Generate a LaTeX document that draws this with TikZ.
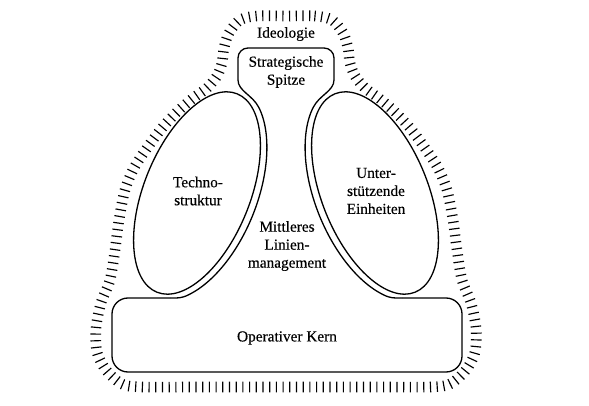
\documentclass[tikz,border=0pt]{standalone}
\usepackage{fontspec}
\setmainfont[FakeBold=0.35]{Liberation Serif}
\usetikzlibrary{decorations.pathreplacing}
\begin{document}
\begin{tikzpicture}[x=1pt,y=-1pt,
  outl/.style={line width=1.3pt, line join=round},
  lbl/.style={align=center, inner sep=0pt, font=\fontsize{15.3}{18}\selectfont},
  hatch/.style={line width=1.15pt, decorate, decoration={ticks, segment length=6.7pt, amplitude=5.3pt}}]
\fill[white] (0,0) rectangle (589,406);
\useasboundingbox (0,0) rectangle (589,406);
% ideology hatching
\draw[hatch] plot[smooth cycle] coordinates {(286,16) (315,16) (332,20) (343,33) (348,48) (350,63) (355,76) (365,88) (380,99) (395,112) (410,128) (425,148) (438,168) (447,190) (453,220) (457,250) (462,280) (471,303) (476,328) (475,352) (466,370) (450,384) (430,387) (380,387) (286,387) (192,387) (142,387) (122,384) (106,370) (97,352) (96,328) (101,303) (110,280) (115,250) (119,220) (125,190) (134,168) (147,148) (162,128) (177,112) (192,99) (207,88) (217,76) (222,63) (224,48) (229,33) (240,20) (257,16)};
% operating core
\draw[outl, rounded corners=16pt] (170,298) -- (112,298) -- (112,372) -- (462,372) -- (462,298) -- (402,298);
% strategic apex
\draw[outl, rounded corners=10pt] (238,80) -- (238,48) -- (334,48) -- (334,80);
% middle line boundaries
\draw[outl] (170,298) .. controls (178,298) and (181,298.4) .. (188.2,295)
  -- plot[domain=-150:-25, samples=60, variable=\t] ({197+42.33*cos(\t)-55.63*sin(\t)}, {193-104.77*cos(\t)-22.48*sin(\t)})
  .. controls (252.6,95) and (238,91) .. (238,80);
\draw[outl] (402,298) .. controls (394,298) and (391,298.4) .. (383.8,295)
  -- plot[domain=-150:-25, samples=60, variable=\t] ({375-42.33*cos(\t)+55.63*sin(\t)}, {193-104.77*cos(\t)-22.48*sin(\t)})
  .. controls (319.4,95) and (334,91) .. (334,80);
% technostructure and support staff
\draw[outl, rotate around={68:(197,193)}] (197,193) ellipse (107 and 53);
\draw[outl, rotate around={112:(375,193)}] (375,193) ellipse (107 and 53);
% labels
\node[lbl] (ideo) at (286,34) {Ideologie};
\node[lbl] (apex) at (286,72) {Strategische\\Spitze};
\node[lbl] (tech) at (198,191) {Techno-\\struktur};
\node[lbl] (supp) at (376,191) {Unter-\\stützende\\Einheiten};
\node[lbl] (mid) at (287,246) {Mittleres\\Linien-\\management};
\node[lbl] (core) at (287,338) {Operativer Kern};
\end{tikzpicture}
\end{document}
